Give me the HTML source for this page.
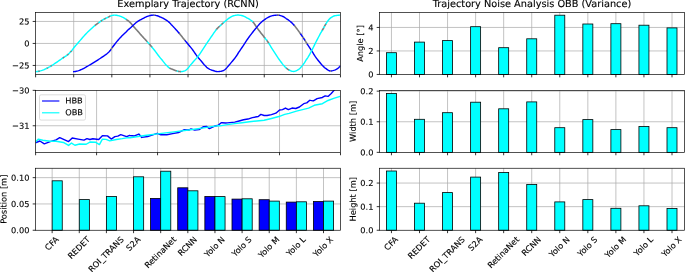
<!DOCTYPE html>
<html><head><meta charset="utf-8"><title>Trajectory plots</title>
<style>html,body{margin:0;padding:0;background:#fff}svg{display:block}text{stroke:#000;stroke-width:0.12px;paint-order:stroke}</style></head>
<body>
<svg width="685" height="272" viewBox="0 0 685 272" font-family='"DejaVu Sans", "Liberation Sans", sans-serif' fill="#000" text-rendering="geometricPrecision">
<rect width="685" height="272" fill="#fff"/>
<defs>
<clipPath id="cl0"><rect x="35.6" y="12.45" width="304.90" height="62.00"/></clipPath>
<clipPath id="cl1"><rect x="35.6" y="90.35" width="304.90" height="62.00"/></clipPath>
<clipPath id="cl2"><rect x="35.6" y="168.25" width="304.90" height="62.00"/></clipPath>
</defs>
<path d="M73.71 12.45V74.45M111.82 12.45V74.45M149.93 12.45V74.45M188.04 12.45V74.45M226.15 12.45V74.45M264.26 12.45V74.45M302.37 12.45V74.45" stroke="#acacac" stroke-width="0.72" fill="none"/>
<path d="M35.6 21.45H340.5M35.6 43.45H340.5M35.6 65.45H340.5" stroke="#acacac" stroke-width="0.72" fill="none"/>
<g clip-path="url(#cl0)" fill="none" stroke-width="1.42" stroke-linejoin="round">
<path d="M38.00 71.36 L38.63 71.26 L39.27 71.14 L39.90 71.00 M46.40 68.50 L47.20 68.09 L48.00 67.68 M50.50 66.28 L51.30 65.80 L52.10 65.31 M62.60 58.17 L63.23 57.73 L63.87 57.31 L64.50 56.90 M67.00 55.25 L67.85 54.58 L68.70 53.83 M70.20 52.32 L71.00 51.42 L71.80 50.49 M94.70 25.67 L95.38 25.13 L96.07 24.60 L96.75 24.09 L97.43 23.59 L98.12 23.11 L98.80 22.63 M100.60 21.37 L101.20 20.96 L101.80 20.56 L102.40 20.18 M103.90 19.29 L104.63 18.90 L105.37 18.53 L106.10 18.17 M107.90 17.31 L108.55 16.99 L109.20 16.65 L109.85 16.32 L110.50 16.02 M125.90 19.24 L126.50 19.65 L127.11 20.07 L127.71 20.49 L128.31 20.93 L128.91 21.40 L129.52 21.90 L130.12 22.44 L130.72 23.08 L131.32 23.78 L131.93 24.50 L132.53 25.21 L133.13 25.93 L133.74 26.66 L134.34 27.37 L134.94 28.07 L135.54 28.74 L136.15 29.38 L136.75 30.02 L137.35 30.68 L137.96 31.37 L138.56 32.07 L139.16 32.78 L139.76 33.49 L140.37 34.19 L140.97 34.88 L141.57 35.55 L142.17 36.21 L142.78 36.87 L143.38 37.52 L143.98 38.17 L144.59 38.81 L145.19 39.46 L145.79 40.11 L146.39 40.76 L147.00 41.42 L147.60 42.08 M149.00 43.66 L149.60 44.36 L150.20 45.06 L150.80 45.78 L151.40 46.50 L152.00 47.22 M169.30 67.93 L169.90 68.29 L170.50 68.60 L171.10 68.87 L171.70 69.11 L172.30 69.34 L172.90 69.56 L173.50 69.79 L174.10 70.01 L174.70 70.23 L175.30 70.44 L175.90 70.65 L176.50 70.84 L177.10 71.04 M177.80 71.26 L178.46 71.39 L179.12 71.49 L179.78 71.56 L180.44 71.61 L181.10 71.60 M216.10 29.87 L216.73 29.10 L217.37 28.41 L218.00 27.76 L218.63 27.14 L219.27 26.54 L219.90 25.97 M221.10 24.90 L221.87 24.22 L222.63 23.53 L223.40 22.83 M252.50 21.51 L253.13 22.13 L253.76 22.91 L254.39 23.82 L255.02 24.80 L255.65 25.79 L256.28 26.74 L256.91 27.62 L257.54 28.49 L258.17 29.35 L258.80 30.20 L259.43 31.04 L260.06 31.86 L260.69 32.67 L261.32 33.47 L261.95 34.26 L262.58 35.05 L263.21 35.85 L263.84 36.64 L264.47 37.44 L265.10 38.24 M266.50 40.01 L267.12 40.86 L267.75 41.74 L268.38 42.67 L269.00 43.64 M286.10 67.92 L286.72 68.45 L287.34 68.94 L287.96 69.39 L288.58 69.77 L289.20 70.06 M322.00 30.84 L322.63 29.75 L323.27 28.60 L323.90 27.41 M324.20 26.85 L324.83 25.70 L325.47 24.61 L326.10 23.54" stroke="#7c7c7c" stroke-width="1.6"/>
<path d="M110.60 49.94 L111.27 48.87 L111.93 47.92 L112.60 47.03 M153.40 15.11 L154.00 15.14 L154.60 15.20 L155.20 15.29 M178.90 32.89 L179.54 33.64 L180.18 34.41 L180.82 35.20 L181.46 36.01 L182.10 36.83 L182.74 37.65 L183.38 38.46 L184.02 39.28 L184.66 40.07 L185.30 40.86 M277.00 15.13 L277.77 15.11 L278.53 15.16 L279.30 15.28 M293.90 24.95 L294.54 25.69 L295.17 26.53 L295.81 27.40 L296.45 28.24 L297.08 29.05 L297.72 29.87 L298.35 30.72 L298.99 31.60 L299.63 32.51 L300.26 33.43 L300.90 34.34 M302.30 36.35 L303.10 37.55 L303.90 38.79 M304.50 39.74 L305.10 40.68 L305.70 41.62 L306.30 42.56 L306.90 43.49 L307.50 44.42 M329.80 70.91 L330.60 70.99 L331.40 70.94" stroke="#7c7c7c" stroke-width="1.6"/>
<path d="M73.00 71.70 L73.81 71.66 L74.62 71.57 L75.43 71.44 L76.23 71.29 L77.04 71.12 L77.85 70.93 L78.66 70.67 L79.47 70.35 L80.28 69.99 L81.09 69.64 L81.89 69.28 L82.70 68.91 L83.51 68.52 L84.32 68.11 L85.13 67.68 L85.94 67.22 L86.74 66.73 L87.55 66.23 L88.36 65.74 L89.17 65.26 L89.98 64.78 L90.79 64.30 L91.60 63.82 L92.40 63.33 L93.21 62.84 L94.02 62.35 L94.83 61.85 L95.64 61.35 L96.45 60.84 L97.26 60.33 L98.06 59.81 L98.87 59.28 L99.68 58.75 L100.49 58.22 L101.30 57.69 L102.11 57.15 L102.91 56.60 L103.72 56.05 L104.53 55.51 L105.34 54.95 L106.15 54.33 L106.96 53.70 L107.77 53.03 L108.57 52.31 L109.38 51.51 L110.19 50.56 L111.00 49.30 M112.20 47.56 L113.00 46.52 L113.80 45.50 L114.60 44.47 L115.40 43.41 L116.20 42.37 L117.00 41.37 L117.80 40.43 L118.60 39.51 L119.40 38.63 L120.20 37.77 L121.00 36.93 L121.80 36.11 L122.60 35.33 L123.40 34.58 L124.20 33.84 L125.00 33.08 L125.80 32.29 L126.60 31.42 L127.40 30.54 L128.20 29.78 L129.00 29.09 L129.80 28.41 L130.60 27.68 L131.40 26.92 L132.20 26.15 L133.00 25.40 L133.80 24.67 L134.60 23.94 L135.40 23.22 L136.20 22.55 L137.00 21.94 L137.80 21.40 L138.60 20.90 L139.40 20.43 L140.20 19.98 L141.00 19.55 L141.80 19.13 L142.60 18.70 L143.40 18.27 L144.20 17.84 L145.00 17.43 L145.80 17.04 L146.60 16.69 L147.40 16.37 L148.20 16.07 L149.00 15.82 L149.80 15.62 L150.60 15.46 L151.40 15.31 L152.20 15.19 L153.00 15.12 L153.80 15.12 M154.80 15.23 L155.62 15.37 L156.43 15.57 L157.25 15.78 L158.07 16.01 L158.88 16.34 L159.70 16.74 L160.52 17.10 L161.33 17.44 L162.15 17.81 L162.97 18.22 L163.78 18.66 L164.60 19.14 L165.42 19.64 L166.23 20.15 L167.05 20.69 L167.87 21.26 L168.68 21.89 L169.50 22.62 L170.32 23.48 L171.13 24.40 L171.95 25.27 L172.77 26.13 L173.58 27.00 L174.40 27.88 L175.22 28.77 L176.03 29.66 L176.85 30.57 L177.67 31.48 L178.48 32.41 L179.30 33.36 M184.90 40.37 L185.70 41.34 L186.51 42.30 L187.31 43.26 L188.12 44.23 L188.92 45.21 L189.73 46.18 L190.53 47.16 L191.33 48.16 L192.14 49.18 L192.94 50.25 L193.75 51.38 L194.55 52.55 L195.36 53.73 L196.16 54.89 L196.97 55.99 L197.77 57.02 L198.57 57.99 L199.38 58.92 L200.18 59.86 L200.99 60.80 L201.79 61.78 L202.60 62.78 L203.40 63.75 L204.20 64.67 L205.01 65.53 L205.81 66.37 L206.62 67.18 L207.42 67.89 L208.23 68.46 L209.03 68.91 L209.83 69.32 L210.64 69.67 L211.44 69.99 L212.25 70.27 L213.05 70.52 L213.86 70.78 L214.66 71.04 L215.47 71.27 L216.27 71.45 L217.07 71.57 L217.88 71.61 L218.68 71.58 L219.49 71.50 L220.29 71.38 L221.10 71.23 L221.90 71.06 L222.70 70.85 L223.51 70.49 L224.31 70.02 L225.12 69.49 L225.92 68.78 L226.73 67.88 L227.53 66.91 L228.33 65.97 L229.14 65.04 L229.94 64.09 L230.75 63.12 L231.55 62.14 L232.36 61.17 L233.16 60.21 L233.97 59.24 L234.77 58.23 L235.57 57.16 L236.38 56.00 L237.18 54.77 L237.99 53.50 L238.79 52.23 L239.60 51.02 L240.40 49.83 L241.20 48.66 L242.01 47.49 L242.81 46.32 L243.62 45.13 L244.42 43.92 L245.23 42.67 L246.03 41.42 L246.83 40.18 L247.64 38.98 L248.44 37.83 L249.25 36.73 L250.05 35.66 L250.86 34.62 L251.66 33.58 L252.47 32.54 L253.27 31.48 L254.07 30.43 L254.88 29.45 L255.68 28.54 L256.49 27.63 L257.29 26.65 L258.10 25.65 L258.90 24.70 L259.70 23.85 L260.51 23.06 L261.31 22.30 L262.12 21.59 L262.92 20.91 L263.73 20.27 L264.53 19.67 L265.33 19.08 L266.14 18.52 L266.94 18.00 L267.75 17.54 L268.55 17.14 L269.36 16.76 L270.16 16.40 L270.97 16.08 L271.77 15.83 L272.57 15.65 L273.38 15.52 L274.18 15.40 L274.99 15.30 L275.79 15.21 L276.60 15.15 L277.40 15.12 M278.90 15.21 L279.71 15.38 L280.52 15.61 L281.33 15.87 L282.14 16.15 L282.95 16.48 L283.76 16.92 L284.57 17.43 L285.38 17.98 L286.19 18.54 L287.01 19.08 L287.82 19.63 L288.63 20.20 L289.44 20.80 L290.25 21.44 L291.06 22.12 L291.87 22.85 L292.68 23.64 L293.49 24.50 L294.30 25.41 M300.50 33.77 L301.60 35.34 L302.70 36.94 M303.50 38.17 L304.90 40.37 M307.10 43.80 L307.93 45.07 L308.75 46.32 L309.58 47.58 L310.40 48.83 L311.23 50.09 L312.05 51.38 L312.88 52.71 L313.70 54.09 L314.53 55.42 L315.35 56.66 L316.18 57.81 L317.00 58.91 L317.82 59.97 L318.65 61.01 L319.48 62.05 L320.30 63.06 L321.12 64.03 L321.95 64.94 L322.77 65.80 L323.60 66.64 L324.43 67.42 L325.25 68.11 L326.07 68.70 L326.90 69.30 L327.72 69.89 L328.55 70.39 L329.38 70.78 L330.20 70.98 M331.00 70.98 L331.86 70.87 L332.73 70.68 L333.59 70.43 L334.45 70.15 L335.32 69.84 L336.18 69.45 L337.05 68.92 L337.91 68.31 L338.77 67.61 L339.64 66.77 L340.50 65.80" stroke="#0000ff"/>
<path d="M35.60 71.65 L36.53 71.57 L37.47 71.45 L38.40 71.30 M39.50 71.09 L40.31 70.90 L41.12 70.67 L41.93 70.41 L42.74 70.13 L43.56 69.83 L44.37 69.48 L45.18 69.10 L45.99 68.70 L46.80 68.29 M47.60 67.89 L48.42 67.45 L49.25 67.00 L50.08 66.53 L50.90 66.04 M51.70 65.56 L52.51 65.05 L53.31 64.52 L54.12 63.98 L54.93 63.43 L55.74 62.88 L56.54 62.34 L57.35 61.79 L58.16 61.23 L58.96 60.68 L59.77 60.12 L60.58 59.56 L61.39 59.01 L62.19 58.45 L63.00 57.89 M64.10 57.15 L64.92 56.63 L65.75 56.10 L66.58 55.55 L67.40 54.95 M68.30 54.20 L69.45 53.10 L70.60 51.88 M71.40 50.96 L72.22 49.96 L73.03 48.82 L73.85 47.76 L74.67 46.77 L75.49 45.81 L76.30 44.86 L77.12 43.92 L77.94 42.99 L78.76 42.06 L79.57 41.11 L80.39 40.15 L81.21 39.18 L82.02 38.22 L82.84 37.29 L83.66 36.38 L84.48 35.48 L85.29 34.60 L86.11 33.73 L86.93 32.88 L87.74 32.06 L88.56 31.29 L89.38 30.54 L90.20 29.78 L91.01 29.01 L91.83 28.24 L92.65 27.47 L93.47 26.73 L94.28 26.02 L95.10 25.35 M98.40 22.91 L99.27 22.30 L100.13 21.70 L101.00 21.10 M102.00 20.43 L103.15 19.72 L104.30 19.07 M105.70 18.36 L106.57 17.94 L107.43 17.53 L108.30 17.12 M110.10 16.20 L110.91 15.86 L111.72 15.61 L112.53 15.41 L113.34 15.24 L114.15 15.13 L114.96 15.12 L115.77 15.18 L116.58 15.30 L117.39 15.45 L118.20 15.63 L119.01 15.82 L119.82 16.05 L120.63 16.35 L121.44 16.70 L122.25 17.08 L123.06 17.49 L123.87 17.92 L124.68 18.42 L125.49 18.95 L126.30 19.51 M147.20 41.64 L148.30 42.86 L149.40 44.12 M151.60 46.74 L152.42 47.74 L153.25 48.74 L154.07 49.77 L154.89 50.80 L155.71 51.87 L156.54 52.97 L157.36 54.10 L158.18 55.22 L159.00 56.30 L159.83 57.33 L160.65 58.33 L161.47 59.32 L162.30 60.31 L163.12 61.33 L163.94 62.38 L164.76 63.42 L165.59 64.39 L166.41 65.26 L167.23 66.11 L168.05 66.91 L168.88 67.62 L169.70 68.18 M176.70 70.91 L178.20 71.35 M180.70 71.61 L181.51 71.57 L182.33 71.47 L183.14 71.31 L183.95 71.11 L184.77 70.86 L185.58 70.38 L186.40 69.71 L187.21 68.97 L188.02 68.15 L188.84 67.15 L189.65 66.09 L190.46 65.08 L191.28 64.12 L192.09 63.17 L192.90 62.22 L193.72 61.28 L194.53 60.37 L195.35 59.49 L196.16 58.61 L196.97 57.71 L197.79 56.74 L198.60 55.68 L199.41 54.52 L200.23 53.29 L201.04 52.03 L201.85 50.77 L202.67 49.53 L203.48 48.31 L204.30 47.09 L205.11 45.86 L205.92 44.64 L206.74 43.43 L207.55 42.22 L208.36 41.02 L209.18 39.83 L209.99 38.64 L210.80 37.45 L211.62 36.27 L212.43 35.08 L213.25 33.89 L214.06 32.72 L214.87 31.57 L215.69 30.43 L216.50 29.37 M219.50 26.33 L220.50 25.43 L221.50 24.55 M223.00 23.19 L223.81 22.46 L224.62 21.75 L225.42 21.05 L226.23 20.38 L227.04 19.69 L227.85 19.02 L228.66 18.38 L229.46 17.81 L230.27 17.32 L231.08 16.84 L231.89 16.41 L232.70 16.05 L233.51 15.79 L234.31 15.58 L235.12 15.38 L235.93 15.21 L236.74 15.09 L237.55 15.03 L238.35 15.04 L239.16 15.10 L239.97 15.21 L240.78 15.35 L241.59 15.51 L242.39 15.69 L243.20 15.95 L244.01 16.29 L244.82 16.70 L245.63 17.14 L246.44 17.58 L247.24 18.01 L248.05 18.46 L248.86 18.94 L249.67 19.45 L250.48 19.99 L251.28 20.54 L252.09 21.16 L252.90 21.89 M264.70 37.73 L265.80 39.11 L266.90 40.55 M268.60 43.01 L269.41 44.30 L270.23 45.66 L271.04 47.01 L271.85 48.30 L272.67 49.56 L273.48 50.80 L274.30 52.04 L275.11 53.30 L275.92 54.60 L276.74 55.89 L277.55 57.13 L278.36 58.33 L279.18 59.50 L279.99 60.63 L280.80 61.73 L281.62 62.80 L282.43 63.84 L283.25 64.84 L284.06 65.78 L284.87 66.68 L285.69 67.52 L286.50 68.27 M288.80 69.87 L289.62 70.26 L290.44 70.64 L291.26 70.97 L292.08 71.23 L292.90 71.40 L293.72 71.43 L294.54 71.31 L295.36 71.07 L296.18 70.74 L297.00 70.38 L297.81 69.96 L298.63 69.37 L299.45 68.68 L300.27 67.93 L301.09 67.08 L301.91 66.13 L302.73 65.10 L303.55 64.01 L304.37 62.81 L305.19 61.52 L306.01 60.24 L306.83 59.02 L307.65 57.79 L308.47 56.47 L309.29 55.05 L310.11 53.56 L310.93 52.02 L311.75 50.46 L312.57 48.89 L313.39 47.26 L314.20 45.60 L315.02 43.93 L315.84 42.28 L316.66 40.67 L317.48 39.09 L318.30 37.52 L319.12 35.97 L319.94 34.45 L320.76 32.96 L321.58 31.54 L322.40 30.16 M323.50 28.16 L324.60 26.11 M325.70 24.22 L326.52 22.85 L327.34 21.59 L328.17 20.50 L328.99 19.50 L329.81 18.60 L330.63 17.86 L331.46 17.29 L332.28 16.78 L333.10 16.34 L333.92 16.00 L334.74 15.79 L335.57 15.63 L336.39 15.49 L337.21 15.36 L338.03 15.26 L338.86 15.18 L339.68 15.13 L340.50 15.11" stroke="#00ffff"/>
</g>
<path d="M35.60 74.45v2.9M73.71 74.45v2.9M111.82 74.45v2.9M149.93 74.45v2.9M188.04 74.45v2.9M226.15 74.45v2.9M264.26 74.45v2.9M302.37 74.45v2.9M340.48 74.45v2.9" stroke="#000" stroke-width="0.8" fill="none"/>
<path d="M35.6 21.45h-2.9M35.6 43.45h-2.9M35.6 65.45h-2.9" stroke="#000" stroke-width="0.8" fill="none"/>
<text transform="translate(29.40,24.50) rotate(0.04)" text-anchor="end" font-size="8.25">25</text>
<text transform="translate(29.40,46.50) rotate(0.04)" text-anchor="end" font-size="8.25">0</text>
<text transform="translate(29.40,68.50) rotate(0.04)" text-anchor="end" font-size="8.25">−25</text>
<rect x="35.6" y="12.45" width="304.90" height="62.00" fill="none" stroke="#000" stroke-width="0.68"/>
<text transform="translate(188.05,7.35) rotate(0.02)" text-anchor="middle" font-size="9.75">Exemplary Trajectory (RCNN)</text>
<path d="M96.58 90.35V152.35M157.56 90.35V152.35M218.54 90.35V152.35M279.52 90.35V152.35" stroke="#acacac" stroke-width="0.72" fill="none"/>
<path d="M35.6 125.75H340.5" stroke="#acacac" stroke-width="0.72" fill="none"/>
<g clip-path="url(#cl1)" fill="none" stroke-width="1.42" stroke-linejoin="round">
<path d="M35.47 142.77 L39.88 141.01 L44.29 143.80 L50.18 141.59 L56.06 139.83 L59.74 137.62 L68.56 141.59 L72.24 138.06 L78.12 139.09 L84.00 140.12 L86.94 138.65 L89.88 139.54 L92.82 138.80 L98.71 139.54 L102.38 135.71 L107.53 135.86 L111.21 139.09 L114.88 136.59 L117.82 136.15 L120.76 134.68 L126.65 136.59 L129.59 135.42 L130.00 135.51 L134.41 135.95 L138.82 134.04 L141.76 137.42 L147.65 136.54 L152.06 135.06 L157.21 133.30 L160.88 134.77 L166.76 134.77 L172.65 133.59 L178.53 132.56 L184.41 129.62 L188.82 130.06 L191.03 128.89 L194.71 130.06 L199.12 129.62 L203.53 126.68 L206.47 126.39 L209.41 128.59 L215.29 125.95 L218.24 125.21 L221.18 122.71 L222.21 122.74 L225.59 123.01 L227.35 122.89 L234.71 122.15 L239.12 120.98 L243.53 119.80 L247.94 119.06 L252.35 117.59 L258.24 116.56 L260.88 114.36 L264.12 115.54 L267.06 115.54 L271.47 114.65 L275.88 113.18 L279.56 109.95 L282.50 109.65 L285.44 108.04 L288.38 109.65 L292.06 108.04 L295.74 108.48 L299.41 107.01 L303.75 103.69 L303.82 103.62 L306.59 102.89 L306.76 102.89 L309.82 100.22 L310.44 100.39 L313.06 100.86 L313.38 100.83 L316.70 98.84 L317.06 98.62 L322.36 97.47 L325.19 95.85 L328.03 96.41 L331.26 93.42 L334.09 90.35 L336.93 87.11" stroke="#0000ff"/>
<path d="M35.47 142.04 L38.41 139.09 L42.82 140.27 L50.18 141.30 L56.06 141.30 L63.41 142.48 L68.56 145.42 L71.50 143.06 L74.88 145.27 L79.59 143.95 L86.21 144.24 L89.88 142.04 L95.76 142.33 L99.44 144.54 L102.38 139.09 L106.06 139.39 L109.74 140.86 L116.35 139.54 L122.24 138.65 L128.12 137.62 L130.00 137.71 L144.71 135.51 L159.41 133.59 L174.12 131.83 L188.82 130.06 L203.53 127.86 L218.24 125.65 L220.00 125.83 L227.35 124.65 L234.71 123.62 L242.06 122.74 L249.41 121.71 L256.76 120.98 L264.12 120.24 L271.47 118.48 L278.82 116.56 L284.71 114.36 L289.12 113.33 L296.47 111.12 L308.61 108.14 L314.27 105.31 L322.36 103.69 L328.03 100.46 L333.69 98.44 L340.16 96.41" stroke="#00ffff"/>
</g>
<rect x="39.5" y="94.8" width="46" height="25.3" rx="1.6" fill="#fff" fill-opacity="0.8" stroke="#d4d4d4" stroke-width="0.8"/>
<path d="M42.6 101.0h16.2" stroke="#0000ff" stroke-width="1.15" stroke-linecap="square"/>
<path d="M42.6 112.8h16.2" stroke="#00ffff" stroke-width="1.15" stroke-linecap="square"/>
<text transform="translate(65.2,103.4) rotate(0.04)" font-size="8.25">HBB</text>
<text transform="translate(65.2,115.35) rotate(0.04)" font-size="8.25">OBB</text>
<path d="M35.60 152.35v2.9M96.58 152.35v2.9M157.56 152.35v2.9M218.54 152.35v2.9M279.52 152.35v2.9M340.50 152.35v2.9" stroke="#000" stroke-width="0.8" fill="none"/>
<path d="M35.6 90.35h-2.9M35.6 125.75h-2.9" stroke="#000" stroke-width="0.8" fill="none"/>
<text transform="translate(29.40,93.40) rotate(0.04)" text-anchor="end" font-size="8.25">−30</text>
<text transform="translate(29.40,128.80) rotate(0.04)" text-anchor="end" font-size="8.25">−31</text>
<rect x="35.6" y="90.35" width="304.90" height="62.00" fill="none" stroke="#000" stroke-width="0.68"/>
<path d="M52.15 168.25V230.25M79.28 168.25V230.25M106.42 168.25V230.25M133.56 168.25V230.25M160.69 168.25V230.25M187.83 168.25V230.25M214.96 168.25V230.25M242.10 168.25V230.25M269.23 168.25V230.25M296.37 168.25V230.25M323.50 168.25V230.25" stroke="#acacac" stroke-width="0.72" fill="none"/>
<path d="M35.6 177.65H340.5M35.6 203.95H340.5" stroke="#acacac" stroke-width="0.72" fill="none"/>
<rect x="150.59" y="198.40" width="10.1" height="31.85" fill="#0000ff" stroke="#000" stroke-width="0.8"/>
<rect x="177.73" y="187.80" width="10.1" height="42.45" fill="#0000ff" stroke="#000" stroke-width="0.8"/>
<rect x="204.86" y="196.50" width="10.1" height="33.75" fill="#0000ff" stroke="#000" stroke-width="0.8"/>
<rect x="232.00" y="199.10" width="10.1" height="31.15" fill="#0000ff" stroke="#000" stroke-width="0.8"/>
<rect x="259.13" y="199.70" width="10.1" height="30.55" fill="#0000ff" stroke="#000" stroke-width="0.8"/>
<rect x="286.26" y="202.10" width="10.1" height="28.15" fill="#0000ff" stroke="#000" stroke-width="0.8"/>
<rect x="313.40" y="201.50" width="10.1" height="28.75" fill="#0000ff" stroke="#000" stroke-width="0.8"/>
<rect x="52.15" y="180.80" width="10.1" height="49.45" fill="#00ffff" stroke="#000" stroke-width="0.8"/>
<rect x="79.28" y="199.60" width="10.1" height="30.65" fill="#00ffff" stroke="#000" stroke-width="0.8"/>
<rect x="106.42" y="196.40" width="10.1" height="33.85" fill="#00ffff" stroke="#000" stroke-width="0.8"/>
<rect x="133.56" y="176.80" width="10.1" height="53.45" fill="#00ffff" stroke="#000" stroke-width="0.8"/>
<rect x="160.69" y="171.20" width="10.1" height="59.05" fill="#00ffff" stroke="#000" stroke-width="0.8"/>
<rect x="187.83" y="190.80" width="10.1" height="39.45" fill="#00ffff" stroke="#000" stroke-width="0.8"/>
<rect x="214.96" y="196.60" width="10.1" height="33.65" fill="#00ffff" stroke="#000" stroke-width="0.8"/>
<rect x="242.10" y="198.80" width="10.1" height="31.45" fill="#00ffff" stroke="#000" stroke-width="0.8"/>
<rect x="269.23" y="201.10" width="10.1" height="29.15" fill="#00ffff" stroke="#000" stroke-width="0.8"/>
<rect x="296.37" y="201.80" width="10.1" height="28.45" fill="#00ffff" stroke="#000" stroke-width="0.8"/>
<rect x="323.50" y="201.10" width="10.1" height="29.15" fill="#00ffff" stroke="#000" stroke-width="0.8"/>
<path d="M52.15 230.25v2.9M79.28 230.25v2.9M106.42 230.25v2.9M133.56 230.25v2.9M160.69 230.25v2.9M187.83 230.25v2.9M214.96 230.25v2.9M242.10 230.25v2.9M269.23 230.25v2.9M296.37 230.25v2.9M323.50 230.25v2.9" stroke="#000" stroke-width="0.8" fill="none"/>
<path d="M35.6 177.65h-2.9M35.6 203.95h-2.9M35.6 230.25h-2.9" stroke="#000" stroke-width="0.8" fill="none"/>
<text transform="translate(29.40,180.70) rotate(0.04)" text-anchor="end" font-size="8.25">0.10</text>
<text transform="translate(29.40,207.00) rotate(0.04)" text-anchor="end" font-size="8.25">0.05</text>
<text transform="translate(29.40,233.30) rotate(0.04)" text-anchor="end" font-size="8.25">0.00</text>
<rect x="35.6" y="168.25" width="304.90" height="62.00" fill="none" stroke="#000" stroke-width="0.68"/>
<text transform="translate(6.50,199.25) rotate(-89.96)" text-anchor="middle" font-size="8.25">Position [m]</text>
<text transform="translate(52.15,243.87) rotate(-45)" x="0" y="2.27" text-anchor="middle" font-size="8.25">CFA</text>
<text transform="translate(79.28,248.17) rotate(-45)" x="0" y="2.27" text-anchor="middle" font-size="8.25">REDET</text>
<text transform="translate(106.42,254.79) rotate(-45)" x="0" y="2.27" text-anchor="middle" font-size="8.25">ROI_TRANS</text>
<text transform="translate(133.56,244.13) rotate(-45)" x="0" y="2.27" text-anchor="middle" font-size="8.25">S2A</text>
<text transform="translate(160.69,252.83) rotate(-45)" x="0" y="2.27" text-anchor="middle" font-size="8.25">RetinaNet</text>
<text transform="translate(187.83,246.71) rotate(-45)" x="0" y="2.27" text-anchor="middle" font-size="8.25">RCNN</text>
<text transform="translate(214.96,247.31) rotate(-45)" x="0" y="2.27" text-anchor="middle" font-size="8.25">Yolo N</text>
<text transform="translate(242.10,246.98) rotate(-45)" x="0" y="2.27" text-anchor="middle" font-size="8.25">Yolo S</text>
<text transform="translate(269.23,247.65) rotate(-45)" x="0" y="2.27" text-anchor="middle" font-size="8.25">Yolo M</text>
<text transform="translate(296.37,246.76) rotate(-45)" x="0" y="2.27" text-anchor="middle" font-size="8.25">Yolo L</text>
<text transform="translate(323.50,247.13) rotate(-45)" x="0" y="2.27" text-anchor="middle" font-size="8.25">Yolo X</text>
<path d="M391.45 12.45V74.45M419.50 12.45V74.45M447.56 12.45V74.45M475.62 12.45V74.45M503.67 12.45V74.45M531.73 12.45V74.45M559.78 12.45V74.45M587.84 12.45V74.45M615.89 12.45V74.45M643.94 12.45V74.45M672.00 12.45V74.45" stroke="#acacac" stroke-width="0.72" fill="none"/>
<path d="M379.6 27.45H684.4M379.6 50.95H684.4" stroke="#acacac" stroke-width="0.72" fill="none"/>
<rect x="386.45" y="52.70" width="10.0" height="21.75" fill="#00ffff" stroke="#000" stroke-width="0.8"/>
<rect x="414.50" y="42.10" width="10.0" height="32.35" fill="#00ffff" stroke="#000" stroke-width="0.8"/>
<rect x="442.56" y="40.60" width="10.0" height="33.85" fill="#00ffff" stroke="#000" stroke-width="0.8"/>
<rect x="470.62" y="26.70" width="10.0" height="47.75" fill="#00ffff" stroke="#000" stroke-width="0.8"/>
<rect x="498.67" y="47.70" width="10.0" height="26.75" fill="#00ffff" stroke="#000" stroke-width="0.8"/>
<rect x="526.73" y="38.80" width="10.0" height="35.65" fill="#00ffff" stroke="#000" stroke-width="0.8"/>
<rect x="554.78" y="15.20" width="10.0" height="59.25" fill="#00ffff" stroke="#000" stroke-width="0.8"/>
<rect x="582.84" y="24.00" width="10.0" height="50.45" fill="#00ffff" stroke="#000" stroke-width="0.8"/>
<rect x="610.89" y="23.70" width="10.0" height="50.75" fill="#00ffff" stroke="#000" stroke-width="0.8"/>
<rect x="638.94" y="25.20" width="10.0" height="49.25" fill="#00ffff" stroke="#000" stroke-width="0.8"/>
<rect x="667.00" y="27.90" width="10.0" height="46.55" fill="#00ffff" stroke="#000" stroke-width="0.8"/>
<path d="M391.45 74.45v2.9M419.50 74.45v2.9M447.56 74.45v2.9M475.62 74.45v2.9M503.67 74.45v2.9M531.73 74.45v2.9M559.78 74.45v2.9M587.84 74.45v2.9M615.89 74.45v2.9M643.94 74.45v2.9M672.00 74.45v2.9" stroke="#000" stroke-width="0.8" fill="none"/>
<path d="M379.6 27.45h-2.9M379.6 50.95h-2.9M379.6 74.45h-2.9" stroke="#000" stroke-width="0.8" fill="none"/>
<text transform="translate(373.40,30.50) rotate(0.04)" text-anchor="end" font-size="8.25">4</text>
<text transform="translate(373.40,54.00) rotate(0.04)" text-anchor="end" font-size="8.25">2</text>
<text transform="translate(373.40,77.50) rotate(0.04)" text-anchor="end" font-size="8.25">0</text>
<rect x="379.6" y="12.45" width="304.80" height="62.00" fill="none" stroke="#000" stroke-width="0.68"/>
<text transform="translate(362.90,43.45) rotate(-89.96)" text-anchor="middle" font-size="8.25">Angle [°]</text>
<path d="M391.45 90.35V152.35M419.50 90.35V152.35M447.56 90.35V152.35M475.62 90.35V152.35M503.67 90.35V152.35M531.73 90.35V152.35M559.78 90.35V152.35M587.84 90.35V152.35M615.89 90.35V152.35M643.94 90.35V152.35M672.00 90.35V152.35" stroke="#acacac" stroke-width="0.72" fill="none"/>
<path d="M379.6 91.15H684.4M379.6 121.75H684.4" stroke="#acacac" stroke-width="0.72" fill="none"/>
<rect x="386.45" y="93.40" width="10.0" height="58.95" fill="#00ffff" stroke="#000" stroke-width="0.8"/>
<rect x="414.50" y="119.30" width="10.0" height="33.05" fill="#00ffff" stroke="#000" stroke-width="0.8"/>
<rect x="442.56" y="112.70" width="10.0" height="39.65" fill="#00ffff" stroke="#000" stroke-width="0.8"/>
<rect x="470.62" y="102.20" width="10.0" height="50.15" fill="#00ffff" stroke="#000" stroke-width="0.8"/>
<rect x="498.67" y="108.80" width="10.0" height="43.55" fill="#00ffff" stroke="#000" stroke-width="0.8"/>
<rect x="526.73" y="101.90" width="10.0" height="50.45" fill="#00ffff" stroke="#000" stroke-width="0.8"/>
<rect x="554.78" y="127.70" width="10.0" height="24.65" fill="#00ffff" stroke="#000" stroke-width="0.8"/>
<rect x="582.84" y="119.60" width="10.0" height="32.75" fill="#00ffff" stroke="#000" stroke-width="0.8"/>
<rect x="610.89" y="129.60" width="10.0" height="22.75" fill="#00ffff" stroke="#000" stroke-width="0.8"/>
<rect x="638.94" y="126.40" width="10.0" height="25.95" fill="#00ffff" stroke="#000" stroke-width="0.8"/>
<rect x="667.00" y="127.70" width="10.0" height="24.65" fill="#00ffff" stroke="#000" stroke-width="0.8"/>
<path d="M391.45 152.35v2.9M419.50 152.35v2.9M447.56 152.35v2.9M475.62 152.35v2.9M503.67 152.35v2.9M531.73 152.35v2.9M559.78 152.35v2.9M587.84 152.35v2.9M615.89 152.35v2.9M643.94 152.35v2.9M672.00 152.35v2.9" stroke="#000" stroke-width="0.8" fill="none"/>
<path d="M379.6 91.15h-2.9M379.6 121.75h-2.9M379.6 152.35h-2.9" stroke="#000" stroke-width="0.8" fill="none"/>
<text transform="translate(373.40,94.20) rotate(0.04)" text-anchor="end" font-size="8.25">0.2</text>
<text transform="translate(373.40,124.80) rotate(0.04)" text-anchor="end" font-size="8.25">0.1</text>
<text transform="translate(373.40,155.40) rotate(0.04)" text-anchor="end" font-size="8.25">0.0</text>
<rect x="379.6" y="90.35" width="304.80" height="62.00" fill="none" stroke="#000" stroke-width="0.68"/>
<text transform="translate(355.80,121.35) rotate(-89.96)" text-anchor="middle" font-size="8.25">Width [m]</text>
<path d="M391.45 168.25V230.25M419.50 168.25V230.25M447.56 168.25V230.25M475.62 168.25V230.25M503.67 168.25V230.25M531.73 168.25V230.25M559.78 168.25V230.25M587.84 168.25V230.25M615.89 168.25V230.25M643.94 168.25V230.25M672.00 168.25V230.25" stroke="#acacac" stroke-width="0.72" fill="none"/>
<path d="M379.6 183.05H684.4M379.6 206.65H684.4" stroke="#acacac" stroke-width="0.72" fill="none"/>
<rect x="386.45" y="171.00" width="10.0" height="59.25" fill="#00ffff" stroke="#000" stroke-width="0.8"/>
<rect x="414.50" y="203.20" width="10.0" height="27.05" fill="#00ffff" stroke="#000" stroke-width="0.8"/>
<rect x="442.56" y="192.60" width="10.0" height="37.65" fill="#00ffff" stroke="#000" stroke-width="0.8"/>
<rect x="470.62" y="177.10" width="10.0" height="53.15" fill="#00ffff" stroke="#000" stroke-width="0.8"/>
<rect x="498.67" y="172.50" width="10.0" height="57.75" fill="#00ffff" stroke="#000" stroke-width="0.8"/>
<rect x="526.73" y="184.40" width="10.0" height="45.85" fill="#00ffff" stroke="#000" stroke-width="0.8"/>
<rect x="554.78" y="201.90" width="10.0" height="28.35" fill="#00ffff" stroke="#000" stroke-width="0.8"/>
<rect x="582.84" y="199.60" width="10.0" height="30.65" fill="#00ffff" stroke="#000" stroke-width="0.8"/>
<rect x="610.89" y="208.30" width="10.0" height="21.95" fill="#00ffff" stroke="#000" stroke-width="0.8"/>
<rect x="638.94" y="205.80" width="10.0" height="24.45" fill="#00ffff" stroke="#000" stroke-width="0.8"/>
<rect x="667.00" y="208.50" width="10.0" height="21.75" fill="#00ffff" stroke="#000" stroke-width="0.8"/>
<path d="M391.45 230.25v2.9M419.50 230.25v2.9M447.56 230.25v2.9M475.62 230.25v2.9M503.67 230.25v2.9M531.73 230.25v2.9M559.78 230.25v2.9M587.84 230.25v2.9M615.89 230.25v2.9M643.94 230.25v2.9M672.00 230.25v2.9" stroke="#000" stroke-width="0.8" fill="none"/>
<path d="M379.6 183.05h-2.9M379.6 206.65h-2.9M379.6 230.25h-2.9" stroke="#000" stroke-width="0.8" fill="none"/>
<text transform="translate(373.40,186.10) rotate(0.04)" text-anchor="end" font-size="8.25">0.2</text>
<text transform="translate(373.40,209.70) rotate(0.04)" text-anchor="end" font-size="8.25">0.1</text>
<text transform="translate(373.40,233.30) rotate(0.04)" text-anchor="end" font-size="8.25">0.0</text>
<rect x="379.6" y="168.25" width="304.80" height="62.00" fill="none" stroke="#000" stroke-width="0.68"/>
<text transform="translate(355.80,199.25) rotate(-89.96)" text-anchor="middle" font-size="8.25">Height [m]</text>
<text transform="translate(391.45,243.87) rotate(-45)" x="0" y="2.27" text-anchor="middle" font-size="8.25">CFA</text>
<text transform="translate(419.50,248.17) rotate(-45)" x="0" y="2.27" text-anchor="middle" font-size="8.25">REDET</text>
<text transform="translate(447.56,254.79) rotate(-45)" x="0" y="2.27" text-anchor="middle" font-size="8.25">ROI_TRANS</text>
<text transform="translate(475.62,244.13) rotate(-45)" x="0" y="2.27" text-anchor="middle" font-size="8.25">S2A</text>
<text transform="translate(503.67,252.83) rotate(-45)" x="0" y="2.27" text-anchor="middle" font-size="8.25">RetinaNet</text>
<text transform="translate(531.73,246.71) rotate(-45)" x="0" y="2.27" text-anchor="middle" font-size="8.25">RCNN</text>
<text transform="translate(559.78,247.31) rotate(-45)" x="0" y="2.27" text-anchor="middle" font-size="8.25">Yolo N</text>
<text transform="translate(587.84,246.98) rotate(-45)" x="0" y="2.27" text-anchor="middle" font-size="8.25">Yolo S</text>
<text transform="translate(615.89,247.65) rotate(-45)" x="0" y="2.27" text-anchor="middle" font-size="8.25">Yolo M</text>
<text transform="translate(643.94,246.76) rotate(-45)" x="0" y="2.27" text-anchor="middle" font-size="8.25">Yolo L</text>
<text transform="translate(672.00,247.13) rotate(-45)" x="0" y="2.27" text-anchor="middle" font-size="8.25">Yolo X</text>
<text transform="translate(532.00,7.35) rotate(0.02)" text-anchor="middle" font-size="9.75">Trajectory Noise Analysis OBB (Variance)</text>
</svg>
</body></html>
